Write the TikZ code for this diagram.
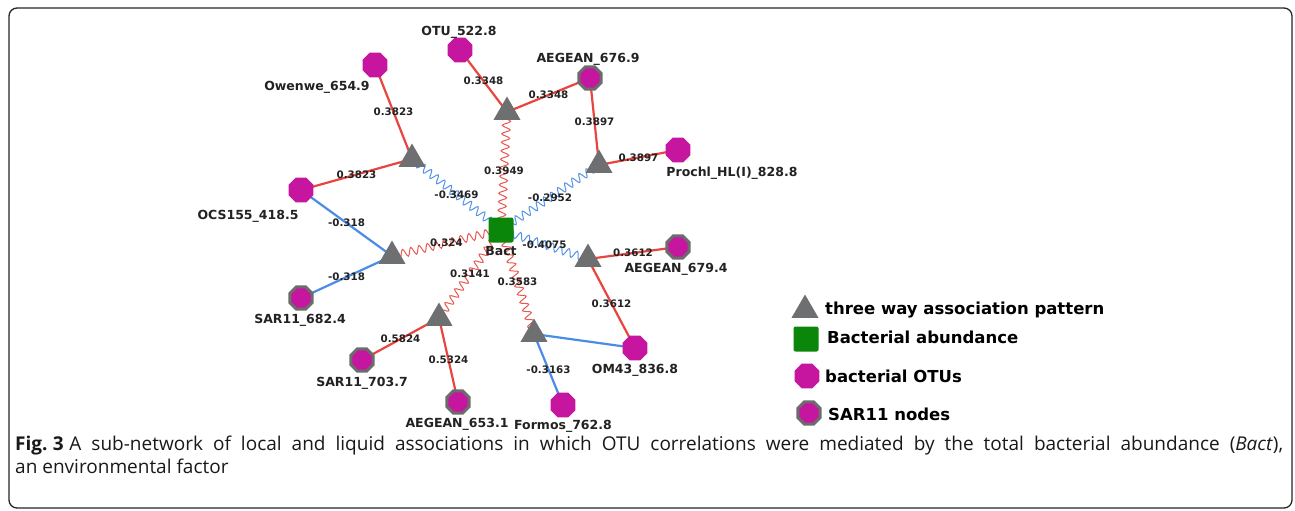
\documentclass[tikz,border=0pt]{standalone}
\usepackage{fontspec}
\setmainfont{DejaVu Sans}
\newfontfamily\capfont{Open Sans}
\usetikzlibrary{shapes.geometric,decorations.pathmorphing,backgrounds}

\definecolor{tricol}{HTML}{6E6F71}
\definecolor{bactgreen}{HTML}{0A870A}
\definecolor{otumag}{HTML}{C6159F}
\definecolor{sarring}{HTML}{6C6C6C}
\definecolor{posred}{HTML}{E8453F}
\definecolor{negblue}{HTML}{4A8CE6}
\definecolor{labtxt}{HTML}{222222}

\tikzset{
  tri/.style={regular polygon, regular polygon sides=3, minimum size=31pt, inner sep=0pt, fill=tricol},
  bactbox/.style={rectangle, rounded corners=2pt, minimum size=25pt, inner sep=0pt, fill=bactgreen},
  otu/.style={regular polygon, regular polygon sides=8, minimum size=27pt, inner sep=0pt, fill=otumag},
  sar/.style={regular polygon, regular polygon sides=8, minimum size=24pt, inner sep=0pt, fill=otumag, draw=sarring, line width=3pt},
  nlab/.style={font=\bfseries\fontsize{12.5}{14}\selectfont, text=labtxt, inner sep=0pt, anchor=base},
  elab/.style={font=\bfseries\fontsize{10.3}{12}\selectfont, text=labtxt, inner sep=0pt, midway},
  leglab/.style={font=\bfseries\fontsize{16.5}{19}\selectfont, text=black, inner sep=0pt, anchor=base west},
  redline/.style={draw=posred, line width=2.2pt},
  blueline/.style={draw=negblue, line width=2.2pt},
  wave/.style={line width=1pt, decorate, decoration={snake, amplitude=4pt, segment length=8.5pt}},
  redwave/.style={wave, draw=posred!90!white},
  bluewave/.style={wave, draw=negblue!95!white},
  captext/.style={anchor=base west, inner sep=0pt, font=\capfont\fontsize{19}{22}\selectfont, text=black!90},
}

\begin{document}
\begin{tikzpicture}[x=1pt,y=-1pt]
\useasboundingbox (0,0) rectangle (1295,511);

% environmental factor
\node[bactbox] (bact) at (501,230) {};

% three way association patterns
\node[tri] (ttop) at (507,112) {};
\node[tri] (tlu)  at (412,159) {};
\node[tri] (tru)  at (599,165) {};
\node[tri] (tl)   at (392,256) {};
\node[tri] (tr)   at (588,259) {};
\node[tri] (tll)  at (439,318) {};
\node[tri] (tlr)  at (534,334) {};

% OTUs
\node[otu] (otu522) at (460,50)  {};
\node[sar] (aeg676) at (590,78)  {};
\node[otu] (owen)   at (375,65)  {};
\node[otu] (prochl) at (678,150) {};
\node[otu] (ocs)    at (301,190) {};
\node[sar] (aeg679) at (678,247) {};
\node[sar] (sar682) at (301,298) {};
\node[sar] (sar703) at (362,360) {};
\node[sar] (aeg653) at (458,402) {};
\node[otu] (formos) at (563,405) {};
\node[otu] (om43)   at (635,348) {};

% node names
\node[nlab] (lotu522) at (459,36)  {OTU\_522.8};
\node[nlab] (laeg676) at (588,63)  {AEGEAN\_676.9};
\node[nlab] (lowen)   at (317,90)  {Owenwe\_654.9};
\node[nlab] (lprochl) at (732,176) {Prochl\_HL(I)\_828.8};
\node[nlab] (locs)    at (248,219) {OCS155\_418.5};
\node[nlab] (lbact)   at (501,255) {Bact};
\node[nlab] (laeg679) at (676,272) {AEGEAN\_679.4};
\node[nlab] (lsar682) at (300,323) {SAR11\_682.4};
\node[nlab] (lsar703) at (362,386) {SAR11\_703.7};
\node[nlab] (laeg653) at (457,427) {AEGEAN\_653.1};
\node[nlab] (lformos) at (563,429) {Formos\_762.8};
\node[nlab] (lom43)   at (635,373) {OM43\_836.8};

\begin{scope}[on background layer]
  \fill[white] (0,0) rectangle (1295,511);
  \draw[line width=1.3pt, rounded corners=8pt, black!85] (9,8) rectangle (1292,508);
  % correlations mediated by Bact
  \draw[redwave]  (bact.center) -- (ttop.center) node[elab] {0.3949};
  \draw[bluewave] (bact.center) -- (tru.center)  node[elab] {-0.2952};
  \draw[bluewave] (bact.center) -- (tlu.center)  node[elab] {-0.3469};
  \draw[redwave]  (bact.center) -- (tl.center)   node[elab] {0.324};
  \draw[bluewave] (bact.center) -- (tr.center)   node[elab] {-0.4075};
  \draw[redwave]  (bact.center) -- (tll.center)  node[elab] {0.3141};
  \draw[redwave]  (bact.center) -- (tlr.center)  node[elab] {0.3583};
  % OTU links
  \draw[redline]  (ttop.center) -- (otu522.center) node[elab] {0.3348};
  \draw[redline]  (ttop.center) -- (aeg676.center) node[elab] {0.3348};
  \draw[redline]  (tru.center)  -- (aeg676.center) node[elab] {0.3897};
  \draw[redline]  (tru.center)  -- (prochl.center) node[elab] {0.3897};
  \draw[redline]  (tlu.center)  -- (owen.center)   node[elab] {0.3823};
  \draw[redline]  (tlu.center)  -- (ocs.center)    node[elab] {0.3823};
  \draw[blueline] (tl.center)   -- (ocs.center)    node[elab] {-0.318};
  \draw[blueline] (tl.center)   -- (sar682.center) node[elab] {-0.318};
  \draw[redline]  (tr.center)   -- (aeg679.center) node[elab] {0.3612};
  \draw[redline]  (tr.center)   -- (om43.center)   node[elab] {0.3612};
  \draw[redline]  (tll.center)  -- (sar703.center) node[elab] {0.5824};
  \draw[redline]  (tll.center)  -- (aeg653.center) node[elab] {0.5324};
  \draw[blueline] (tlr.center)  -- (om43.center);
  \draw[blueline] (tlr.center)  -- (formos.center) node[elab] {-0.3163};
\end{scope}

% legend
\node[tri]     (legtri)  at (805,310) {};
\node[bactbox] (legbact) at (806,339) {};
\node[otu]     (legotu)  at (807,376) {};
\node[sar]     (legsar)  at (809,413) {};
\node[leglab] (ltri)  at (825,314) {three way association pattern};
\node[leglab] (lbab)  at (827,343) {Bacterial abundance};
\node[leglab] (lotus) at (825,382) {bacterial OTUs};
\node[leglab] (lsars) at (828,420) {SAR11 nodes};

% caption
\node[captext] (cap1) at (15,450)
  {\makebox[1268pt][s]{\textbf{Fig.\kern0.28em3}\kern0.3em A sub-network of local and liquid associations in which OTU correlations were mediated by the total bacterial abundance (\textit{Bact}),}};
\node[captext] (cap2) at (15,473)
  {an environmental factor};
\end{tikzpicture}
\end{document}
